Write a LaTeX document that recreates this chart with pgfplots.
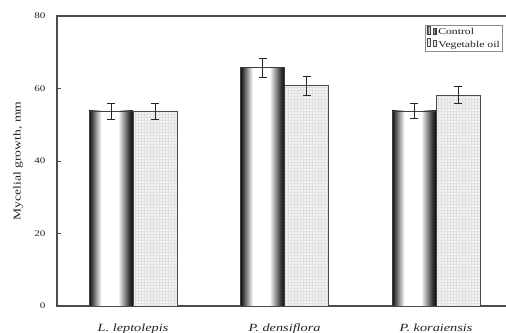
\documentclass[border=0pt]{standalone}
\usepackage{fontspec}
\setmainfont{Liberation Serif}[FakeStretch=1.3]
\usepackage{pgfplots}
\pgfplotsset{compat=1.18}
\usetikzlibrary{patterns}
\pgfdeclarehorizontalshading{cyl}{100bp}{color(0bp)=(black); color(25bp)=(black!95); color(28bp)=(black!75); color(39bp)=(white); color(58bp)=(white); color(70bp)=(black!75); color(74bp)=(black!92); color(75bp)=(black!90); color(100bp)=(black)}
\definecolor{txt}{HTML}{222222}
\pgfplotsset{
  ctrl/.style={bar shift=-22pt, draw=black!75, line width=0.7pt, shading=cyl},
  veg/.style={bar shift=22pt, draw=black!70, line width=0.7pt, fill=gray!10, postaction={pattern=grid, pattern color=gray!24}},
}
\begin{document}
\begin{tikzpicture}
\begin{axis}[
  name=ax,
  scale only axis, width=452pt, height=290pt,
  xmin=-0.502, xmax=2.4815, ymin=0, ymax=80,
  ytick={0,20,40,60,80},
  xtick={0,1,2},
  xticklabels={L. leptolepis, P. densiflora, P. koraiensis},
  xtick style={draw=none},
  ytick pos=left, tick align=inside, major tick length=4pt,
  tick style={black!70, line width=0.8pt},
  axis line style={draw=black!70, line width=1.3pt},
  /pgf/number format/assume math mode=true,
  yticklabel style={font=\fontsize{8.5}{8.5}\selectfont, text=txt, xshift=-8pt},
  xticklabel style={font=\fontsize{11}{11}\selectfont\itshape, text=txt, anchor=base, yshift=-22pt},
  ylabel={Mycelial growth, mm},
  ylabel style={at={(axis description cs:0,0.5)}, anchor=center, yshift=39pt, font=\fontsize{10.5}{10.5}\selectfont, text=txt},
  legend style={at={(axis description cs:0.9867,0.969)}, anchor=north east, draw=black!45, line width=0.5pt,
    font=\fontsize{9}{9}\selectfont, text=txt, inner sep=1pt, row sep=0pt, cells={anchor=west}},
  legend image code/.code={\draw[#1, line width=0.6pt] (0pt,-3pt) rectangle (6pt,3.5pt);},
  ybar, bar width=44pt,
  error bars/y dir=both, error bars/y explicit,
  error bars/error bar style={line width=0.8pt, black!85},
  error bars/error mark options={rotate=90, mark size=4pt, line width=0.8pt, black!85},
]
\addplot[ctrl] coordinates {(0,53.8) +- (0,2.2)};
\addlegendentry{Control}
\addplot[veg] coordinates {(0,53.8) +- (0,2.2) (1,60.8) +- (0,2.6) (2,58.2) +- (0,2.3)};
\addlegendentry{Vegetable oil}
\addplot[ctrl, forget plot] coordinates {(1,65.7) +- (0,2.7)};
\addplot[ctrl, forget plot] coordinates {(2,53.8) +- (0,2.1)};
\end{axis}
\pgfresetboundingbox
\useasboundingbox ([xshift=-57pt,yshift=-27pt]ax.south west) rectangle ([xshift=449pt,yshift=16pt]ax.north west);
\end{tikzpicture}
\end{document}
